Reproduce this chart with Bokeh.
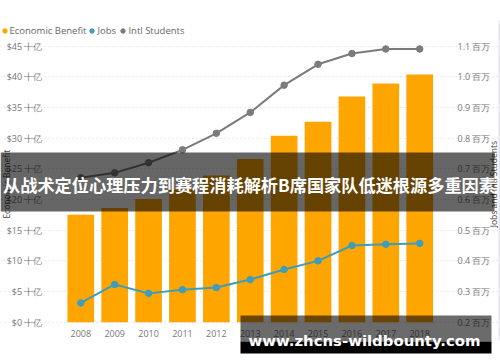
import math
from bokeh.plotting import figure
from bokeh.models import (Range1d, LinearAxis, FixedTicker, CustomJSTickFormatter, Grid,
                          BoxAnnotation, Label, ColumnDataSource, Legend, LegendItem,
                          GlobalInlineStyleSheet)
from bokeh.embed import file_html
from bokeh.resources import INLINE

years = [2008, 2009, 2010, 2011, 2012, 2013, 2014, 2015, 2016, 2017, 2018]
economic_benefit = [17.5, 18.6, 20.1, 21.6, 23.9, 26.6, 30.4, 32.7, 36.8, 38.9, 40.4]  # $ billions
jobs = [0.263, 0.323, 0.294, 0.306, 0.313, 0.339, 0.372, 0.400, 0.450, 0.454, 0.457]  # millions
intl_students = [0.671, 0.687, 0.720, 0.762, 0.816, 0.884, 0.973, 1.041, 1.076, 1.091, 1.091]  # millions
left_ticks = [0, 5, 10, 15, 20, 25, 30, 35, 40, 45]
right_ticks = [0.2, 0.3, 0.4, 0.5, 0.6, 0.7, 0.8, 0.9, 1.0, 1.1]
series_names = ["Economic Benefit", "Jobs", "Intl Students"]
series_colors = ["#FFA500", "#3E9DBB", "#7B7B7B"]
left_title = "Economic Benefit"
right_title = "Jobs and Intl Students"
banner_title = "从战术定位心理压力到赛程消耗解析B席国家队低迷根源多重因素"
watermark = "www.zhcns-wildbounty.com"

# ---- layout geometry (page pixels) ----
W, H = 500, 362
PL, PR, PT, PB = 53.0, 447.0, 45.7, 321.7      # plot area edges
X0, X1 = 2007.195, 2018.82                      # x values at plot-area edges
L0, L1 = 0.0, 45.0                              # left axis values at bottom/top
R0, R1 = 0.2, 1.1                               # right axis values at bottom/top
FONT = "Open Sans"


def extend(v0, v1, a0, a1, full0, full1):
    k = (v1 - v0) / (a1 - a0)
    return v0 + (full0 - a0) * k, v1 + (full1 - a1) * k


xs, xe = extend(X0, X1, PL, PR, 0, W)
ls, le = extend(L0, L1, -PB, -PT, -H, 0)
rs, re = extend(R0, R1, -PB, -PT, -H, 0)

p = figure(width=W, height=H, output_backend="svg", toolbar_location=None,
           x_range=Range1d(xs, xe), y_range=Range1d(ls, le), min_border=0,
           outline_line_color=None, x_axis_type=None, y_axis_type=None)
p.extra_y_ranges = {"right": Range1d(rs, re), "px": Range1d(H, 0)}
p.extra_x_ranges = {"px": Range1d(0, W)}
p.stylesheets = [GlobalInlineStyleSheet(css="html, body { margin: 0; padding: 0; overflow: hidden; }")]

src = ColumnDataSource(dict(year=years, eb=economic_benefit, jobs=jobs, intl=intl_students))
p.vbar(x="year", top="eb", bottom=0, width=0.787, source=src,
       fill_color=series_colors[0], line_color=None)
for col, c in (("jobs", series_colors[1]), ("intl", series_colors[2])):
    p.line(x="year", y=col, source=src, y_range_name="right", line_color=c, line_width=2)
    p.scatter(x="year", y=col, source=src, y_range_name="right", size=6.5,
              fill_color=c, line_color=c)

# axes drawn at fixed locations (so the plotting frame can cover the whole canvas)
xa = LinearAxis(ticker=FixedTicker(ticks=years), fixed_location=L0)
yl = LinearAxis(ticker=FixedTicker(ticks=left_ticks), fixed_location=X0,
                formatter=CustomJSTickFormatter(code='return "$" + tick + " 十亿";'))
yr = LinearAxis(y_range_name="right", ticker=FixedTicker(ticks=right_ticks), fixed_location=X1,
                formatter=CustomJSTickFormatter(code='return tick.toFixed(1) + " 百万";'))
p.add_layout(xa, "below")
p.add_layout(yl, "left")
p.add_layout(yr, "right")
for ax in (xa, yl, yr):
    ax.axis_line_color = None
    ax.major_tick_line_color = None
    ax.minor_tick_line_color = None
    ax.major_label_text_font = FONT
    ax.major_label_text_font_size = "9px"
    ax.major_label_text_color = "#777777"
    ax.major_label_standoff = 5
xa.major_label_standoff = 2
yr.major_label_standoff = 4

grid = Grid(dimension=1, ticker=FixedTicker(ticks=left_ticks), bounds=(X0, X1),
            grid_line_color="#D5D5D5", grid_line_dash="1 3")
p.add_layout(grid)

px = dict(x_range_name="px", y_range_name="px")
# axis titles
p.add_layout(Label(x=5.5, y=(PT + PB) / 2, text=left_title, angle=math.pi / 2, text_font=FONT,
                   text_font_size="8.5px", text_color="#444444", text_align="center",
                   text_baseline="middle", **px))
p.add_layout(Label(x=493, y=(PT + PB) / 2, text=right_title, angle=math.pi / 2, text_font=FONT,
                   text_font_size="8.5px", text_color="#444444", text_align="center",
                   text_baseline="middle", **px))

# thin page border line at the right edge
p.add_layout(BoxAnnotation(left=498, right=499.5, top=20, bottom=340, fill_color="#E6E6EE",
                           fill_alpha=1, line_color=None, **px))

# legend
nan = float("nan")
dummies = [p.scatter(x=[nan], y=[nan], size=5, fill_color=c, line_color=c) for c in series_colors]
legend = Legend(items=[LegendItem(label=n, renderers=[r]) for n, r in zip(series_names, dummies)],
                orientation="horizontal", location=(-1.5, H - 36.5), padding=0, margin=0, spacing=0,
                glyph_width=11, glyph_height=13, label_standoff=0, border_line_color=None,
                background_fill_alpha=0, label_text_font=FONT, label_text_font_size="9.5px",
                label_text_color="#666666")
p.add_layout(legend)

# banner overlay
p.add_layout(BoxAnnotation(left=0, right=494, top=152, bottom=211, fill_color="black",
                           fill_alpha=0.6, line_color=None, level="overlay", **px))
p.add_layout(Label(x=249, y=183.5, text=banner_title, text_font="Noto Sans CJK SC",
                   text_font_style="bold", text_font_size="17.2px", text_color="white",
                   text_align="center", text_baseline="middle", level="overlay", **px))
# watermark overlay
p.add_layout(BoxAnnotation(left=240, right=491, top=315, bottom=341, fill_color="black",
                           fill_alpha=0.58, line_color=None, level="overlay", **px))
p.add_layout(BoxAnnotation(left=240, right=491, top=341, bottom=353, fill_color="black",
                           fill_alpha=1, line_color=None, level="overlay", **px))
p.add_layout(Label(x=364, y=340.5, text=watermark, text_font="DejaVu Sans",
                   text_font_style="bold", text_font_size="14.9px", text_color="white",
                   text_align="center", text_baseline="alphabetic", level="overlay", **px))

open("out.html", "w").write(file_html(p, INLINE))
